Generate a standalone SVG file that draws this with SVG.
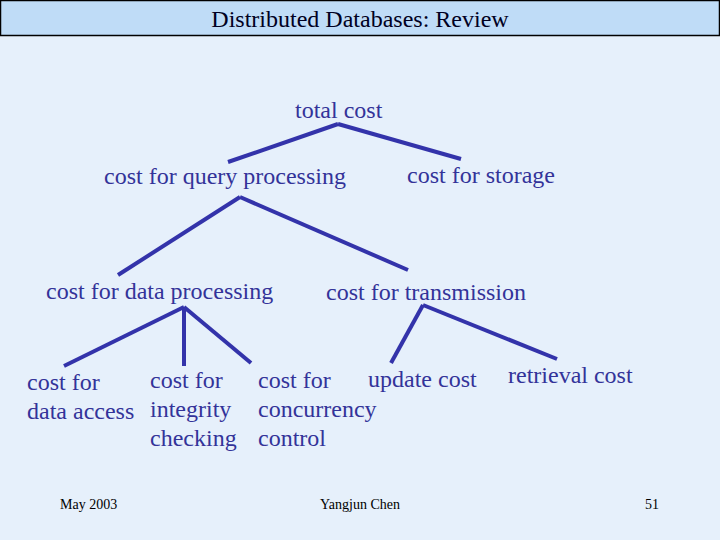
<svg xmlns="http://www.w3.org/2000/svg" width="720" height="540" viewBox="0 0 720 540">
<style>
.t{font-family:"Liberation Serif","Times New Roman",serif;font-size:24px;fill:#333399}
.f{font-family:"Liberation Serif","Times New Roman",serif;font-size:14px;fill:#000}
.c line{stroke:#3333aa;stroke-width:4;stroke-linecap:butt}
</style>
<rect x="0" y="0" width="720" height="540" fill="#e6f0fb"/>
<g id="title">
<rect x="0.5" y="0.5" width="719" height="35" fill="#bfdcf7" stroke="#000" stroke-width="1.5"/>
<text x="360" y="27" text-anchor="middle" font-family="Liberation Serif, Times New Roman, serif" font-size="24" fill="#000022">Distributed Databases: Review</text>
</g>
<g class="c" id="connectors">
<line x1="338" y1="124" x2="228" y2="162"/>
<line x1="338" y1="124" x2="461" y2="159"/>
<line x1="240" y1="197" x2="118" y2="275"/>
<line x1="240" y1="197" x2="408" y2="270"/>
<line x1="184" y1="307" x2="64" y2="366"/>
<line x1="184" y1="307" x2="184" y2="366"/>
<line x1="184" y1="307" x2="251" y2="363"/>
<line x1="423" y1="305" x2="391" y2="363"/>
<line x1="423" y1="305" x2="557" y2="359"/>
</g>
<g id="n-total"><text class="t" x="295" y="118">total cost</text></g>
<g id="n-query"><text class="t" x="104" y="184">cost for query processing</text></g>
<g id="n-storage"><text class="t" x="407" y="183">cost for storage</text></g>
<g id="n-data"><text class="t" x="46" y="299">cost for data processing</text></g>
<g id="n-trans"><text class="t" x="326" y="300">cost for transmission</text></g>
<g id="n-access"><text class="t" x="27" y="390">cost for</text><text class="t" x="27" y="419">data access</text></g>
<g id="n-integrity"><text class="t" x="150" y="388">cost for</text><text class="t" x="150" y="417">integrity</text><text class="t" x="150" y="446">checking</text></g>
<g id="n-concurrency"><text class="t" x="258" y="388">cost for</text><text class="t" x="258" y="417">concurrency</text><text class="t" x="258" y="446">control</text></g>
<g id="n-update"><text class="t" x="368" y="387">update cost</text></g>
<g id="n-retrieval"><text class="t" x="508" y="383">retrieval cost</text></g>
<g id="footer">
<text class="f" x="60" y="509">May 2003</text>
<text class="f" x="360" y="509" text-anchor="middle">Yangjun Chen</text>
<text class="f" x="659" y="509" text-anchor="end">51</text>
</g>
</svg>
